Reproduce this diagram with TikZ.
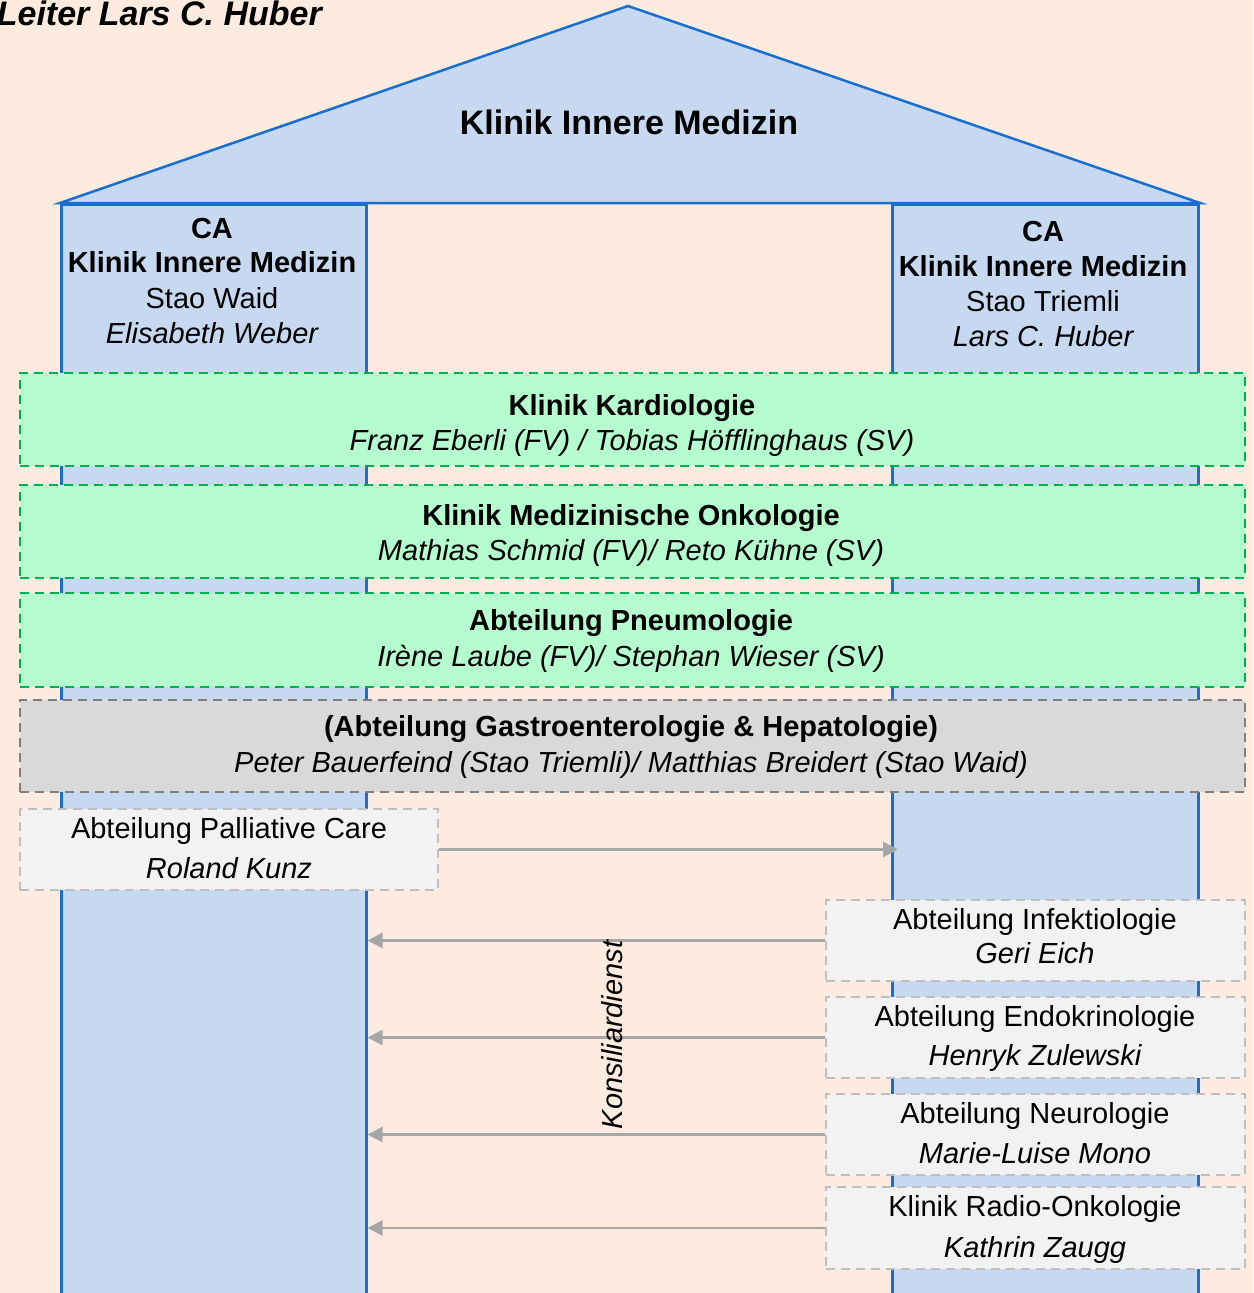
\documentclass[tikz,border=0pt]{standalone}
\usepackage{fontspec}
\setmainfont{Liberation Sans}
\usetikzlibrary{arrows.meta}
\definecolor{bgc}{HTML}{FDEBE0}
\definecolor{bluefill}{HTML}{C6D9F0}
\definecolor{blueline}{HTML}{1A6ED0}
\definecolor{greenfill}{HTML}{B5FCCE}
\definecolor{greenline}{HTML}{00B050}
\definecolor{grayfill}{HTML}{D9D9D9}
\definecolor{grayline}{HTML}{808080}
\definecolor{lightfill}{HTML}{F2F2F2}
\definecolor{lightline}{HTML}{BFBFBF}
\definecolor{arrowc}{HTML}{A6A6A6}
\tikzset{
  pillar/.style={draw=blueline, fill=bluefill, line width=2.5pt, inner sep=0pt, anchor=north west},
  roofshape/.style={draw=blueline, fill=bluefill, line width=2.5pt, line join=miter},
  boxbase/.style={rectangle, inner sep=0pt, line width=2.5pt, dash pattern=on 9pt off 6pt},
  greenbox/.style={boxbase, draw=greenline, fill=greenfill},
  graybox/.style={boxbase, draw=grayline, fill=grayfill},
  lightbox/.style={boxbase, draw=lightline, fill=lightfill},
  txt/.style={inner sep=0pt, font=\fontsize{29}{35}\selectfont, anchor=base},
  arr/.style={draw=arrowc, line width=2.5pt, -{Triangle[length=15pt,width=15pt]}},
}
\newcommand{\twoline}[6]{%
  \node[txt] (#1a) at (#2,#3) {#5};
  \node[txt] (#1b) at (#2,#4) {#6};}
\begin{document}
\begin{tikzpicture}[x=1pt,y=-1pt]
\useasboundingbox (0,0) rectangle (1253,1293);
\clip (0,0) rectangle (1253,1293);
\fill[bgc] (0,0) rectangle (1253,1293);
% pillars
\node[pillar, minimum width=305, minimum height=1110] (pl) at (60,203) {};
\node[pillar, minimum width=306, minimum height=1110] (pr) at (891,203) {};
% roof
\draw[roofshape] (60,203) -- (628,6) -- (1200,203) -- cycle;
\node[txt, font=\fontsize{34}{40}\selectfont\bfseries] (title) at (629,134) {Klinik Innere Medizin};
% top-left label
\node[txt, anchor=base east, font=\fontsize{34}{40}\selectfont\bfseries\itshape] (leiter) at (322,25) {Leiter Lars C. Huber};
% CA left
\node[txt] (caL1) at (212,238) {\bfseries CA};
\node[txt] (caL2) at (212,272) {\bfseries Klinik Innere Medizin};
\node[txt] (caL3) at (212,308) {Stao Waid};
\node[txt] (caL4) at (212,343) {\itshape Elisabeth Weber};
% CA right
\node[txt] (caR1) at (1043,241) {\bfseries CA};
\node[txt] (caR2) at (1043,276) {\bfseries Klinik Innere Medizin};
\node[txt] (caR3) at (1043,311) {Stao Triemli};
\node[txt] (caR4) at (1043,346) {\itshape Lars C. Huber};
% wide boxes
\node[greenbox, minimum width=1225, minimum height=93] (kard) at (632.5,419.5) {};
\twoline{kardT}{632}{415}{450}{\bfseries Klinik Kardiologie}{\itshape Franz Eberli (FV) / Tobias Höfflinghaus (SV)}
\node[greenbox, minimum width=1225, minimum height=93] (onko) at (632.5,531.5) {};
\twoline{onkoT}{631}{525}{560}{\bfseries Klinik Medizinische Onkologie}{\itshape Mathias Schmid (FV)/ Reto Kühne (SV)}
\node[greenbox, minimum width=1225, minimum height=94] (pneu) at (632.5,640) {};
\twoline{pneuT}{631}{630}{666}{\bfseries Abteilung Pneumologie}{\itshape Irène Laube (FV)/ Stephan Wieser (SV)}
\node[graybox, minimum width=1225, minimum height=92] (gastro) at (632.5,746) {};
\twoline{gastroT}{631}{736}{772}{\bfseries (Abteilung Gastroenterologie \& Hepatologie)}{\itshape Peter Bauerfeind (Stao Triemli)/ Matthias Breidert (Stao Waid)}
% palliative
\node[lightbox, minimum width=418, minimum height=81] (pall) at (229,849.5) {};
\twoline{pallT}{229}{838}{878}{Abteilung Palliative Care}{\itshape Roland Kunz}
% right boxes
\node[lightbox, minimum width=419, minimum height=81] (inf) at (1035.5,940.5) {};
\twoline{infT}{1035}{929}{963}{Abteilung Infektiologie}{\itshape Geri Eich}
\node[lightbox, minimum width=419, minimum height=81] (endo) at (1035.5,1037.5) {};
\twoline{endoT}{1035}{1026}{1065}{Abteilung Endokrinologie}{\itshape Henryk Zulewski}
\node[lightbox, minimum width=419, minimum height=81] (neuro) at (1035.5,1134.5) {};
\twoline{neuroT}{1035}{1123}{1163}{Abteilung Neurologie}{\itshape Marie-Luise Mono}
\node[lightbox, minimum width=419, minimum height=82] (radio) at (1035.5,1228) {};
\twoline{radioT}{1035}{1216}{1257}{Klinik Radio-Onkologie}{\itshape Kathrin Zaugg}
% arrows
\coordinate (pallEnd) at (898,849.5);
\draw[arr] (pall.east) -- (pallEnd);
\draw[arr] (inf.west) -- (inf.west -| pl.east);
\draw[arr] (endo.west) -- (endo.west -| pl.east);
\draw[arr] (neuro.west) -- (neuro.west -| pl.east);
\draw[arr] (radio.west) -- (radio.west -| pl.east);
\node[txt, anchor=center, rotate=90, font=\fontsize{29}{35}\selectfont\itshape] (kons) at (612.5,1035) {Konsiliardienst};
\end{tikzpicture}
\end{document}
